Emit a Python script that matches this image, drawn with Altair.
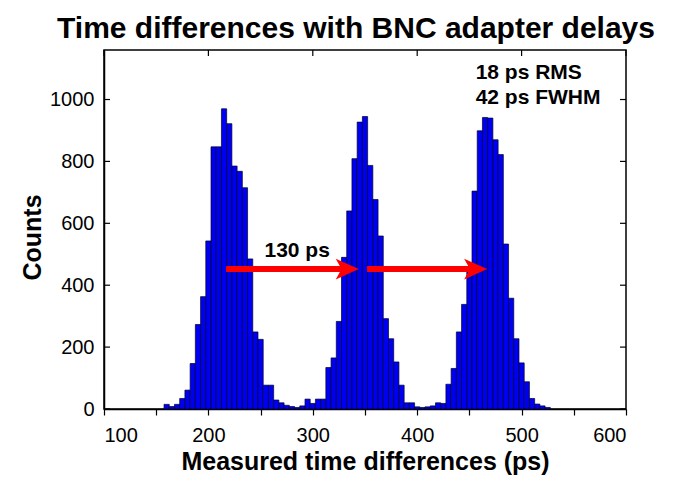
import altair as alt
import pandas as pd

# ---- data ----
bin_centers = list(range(160, 530, 5))   # ps, bin width 5 ps
counts = [15, 8, 15, 34, 61, 147, 273, 363, 543, 847,
          847, 970, 922, 785, 768, 715, 485, 249, 225, 77,
          77, 29, 20, 12, 8, 5, 10, 32, 18, 32,
          32, 134, 165, 283, 490, 640, 809, 927, 945, 787,
          677, 559, 292, 227, 152, 77, 20, 20, 7, 5,
          7, 10, 20, 18, 80, 131, 249, 338, 460, 704,
          899, 942, 940, 870, 822, 533, 358, 227, 149, 88,
          34, 16, 10, 5]
bin_width = 5

x_ticks = list(range(100, 601, 50))
x_major = [100, 200, 300, 400, 500, 600]
y_ticks = [0, 200, 400, 600, 800, 1000]

arrow_start = [217, 352]
arrow_tip = [344, 467]
arrow_level = [452, 452]
head_len = 14  # ps, length of the arrow head along x

ann_text = ["18 ps RMS", "42 ps FWHM"]
ann_x = [456, 456]
ann_y = [1066, 985]

sep_text = ["130 ps"]
sep_x = [285]
sep_y = [491]

W, H = 522, 359
FONT = "Liberation Sans"

bars = pd.DataFrame({"center": bin_centers, "count": counts})
bars["lo"] = bars["center"] - bin_width / 2
bars["hi"] = bars["center"] + bin_width / 2

arrows = pd.DataFrame({"start": arrow_start, "tip": arrow_tip, "level": arrow_level})
arrows["shaft_end"] = arrows["tip"] - head_len

ann = pd.DataFrame({"t": ann_text, "x": ann_x, "y": ann_y})
sep = pd.DataFrame({"t": sep_text, "x": sep_x, "y": sep_y})
yt = pd.DataFrame({"v": y_ticks})
xt = pd.DataFrame({"v": x_major})

xscale = alt.Scale(domain=[100, 600], nice=False, zero=False)
yscale = alt.Scale(domain=[0, 1160], nice=False)

xaxis = alt.Axis(
    values=x_ticks,
    labelExpr="datum.value % 100 == 0 ? datum.label : ''",
    title="Measured time differences (ps)",
    tickSize=6, tickColor="black", tickWidth=1.2,
    labelFontSize=20, labelFont=FONT, labelColor="black", labelPadding=10,
    domainColor="black", domainWidth=1.5,
    titleFontSize=25, titleFont=FONT, titleFontWeight="bold", titleColor="black",
    titleBaseline="alphabetic", titleY=60, titleX=W / 2, titleAnchor="middle",
    grid=False, format="d",
)
yaxis = alt.Axis(
    values=y_ticks,
    title="Counts",
    ticks=False, tickSize=0,
    labelFontSize=20, labelFont=FONT, labelColor="black", labelPadding=10,
    domainColor="black", domainWidth=1.5,
    titleFontSize=25, titleFont=FONT, titleFontWeight="bold", titleColor="black",
    titleAngle=-90, titleBaseline="alphabetic", titleAlign="center",
    titleX=-64, titleY=187,
    grid=False, format="d",
)

hist = alt.Chart(bars).mark_rect(
    fill="#0000f0", stroke="#00002a", strokeWidth=0.7
).encode(
    x=alt.X("lo:Q", scale=xscale, axis=xaxis),
    x2="hi:Q",
    y=alt.Y("count:Q", scale=yscale, axis=yaxis),
    y2=alt.datum(0),
)

shaft = alt.Chart(arrows).mark_rule(color="#ff0000", strokeWidth=6).encode(
    x=alt.X("start:Q", scale=xscale),
    x2="shaft_end:Q",
    y=alt.Y("level:Q", scale=yscale),
)

head = alt.Chart(arrows).mark_point(
    shape="M0,0 L-2,-0.9 L-1.5,0 L-2,0.9 Z",
    filled=True, fill="#ff0000", strokeWidth=0, opacity=1, size=529,
).encode(
    x=alt.X("tip:Q", scale=xscale),
    y=alt.Y("level:Q", scale=yscale),
)

ann_marks = alt.Chart(ann).mark_text(
    font=FONT, fontWeight="bold", fontSize=21, align="left",
    baseline="alphabetic", color="black",
).encode(
    x=alt.X("x:Q", scale=xscale), y=alt.Y("y:Q", scale=yscale), text="t:N"
)

sep_mark = alt.Chart(sep).mark_text(
    font=FONT, fontWeight="bold", fontSize=21, align="center",
    baseline="alphabetic", color="black",
).encode(
    x=alt.X("x:Q", scale=xscale), y=alt.Y("y:Q", scale=yscale), text="t:N"
)

# inward ticks on left, right and top frame
left_ticks = alt.Chart(yt).mark_rule(color="black", strokeWidth=1.2).encode(
    y=alt.Y("v:Q", scale=yscale), x=alt.value(0), x2=alt.value(6)
)
right_ticks = alt.Chart(yt).mark_rule(color="black", strokeWidth=1.2).encode(
    y=alt.Y("v:Q", scale=yscale), x=alt.value(W - 6), x2=alt.value(W)
)
top_ticks = alt.Chart(xt).mark_rule(color="black", strokeWidth=1.2).encode(
    x=alt.X("v:Q", scale=xscale), y=alt.value(0), y2=alt.value(6)
)

chart = alt.layer(
    hist, shaft, head, ann_marks, sep_mark, left_ticks, right_ticks, top_ticks
).properties(
    width=W, height=H,
    title=alt.TitleParams(
        "Time differences with BNC adapter delays",
        font=FONT, fontSize=30, fontWeight="bold", color="black",
        anchor="middle", dx=-9, dy=32, offset=13, baseline="alphabetic",
    ),
    autosize=alt.AutoSizeParams(type="none"),
    padding={"left": 104, "top": 50, "right": 62, "bottom": 83},
    background="white",
).configure_view(
    stroke="black", strokeWidth=1.5
)

chart.save("out.html", embed_options={"renderer": "svg", "actions": False})
